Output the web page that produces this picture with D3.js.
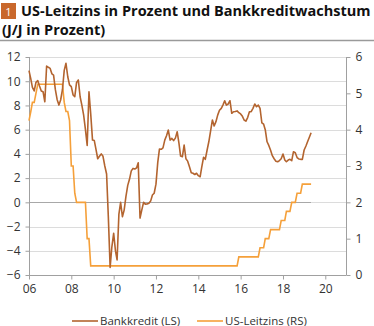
<!DOCTYPE html>
<html><head><meta charset="utf-8">
<script src="https://cdn.jsdelivr.net/npm/d3@7"></script>
<style>
html,body{margin:0;padding:0;background:#fff;}
svg{display:block;font-family:"Open Sans",sans-serif;}
</style></head><body>
<svg id="chart" width="374" height="326"></svg>
<script>
// ---- data ----
const titleNumber = "1";
const titleLine1 = "US-Leitzins in Prozent und Bankkreditwachstum";
const titleLine2 = "(J/J in Prozent)";
const startMonth = "2006-01"; // first month of the Bankkredit series (monthly)
const bankCredit = [
 10.87,10.2,9.5,9.2,9.9,10.05,9.6,9.2,9.13,8.3,11.25,11.15,
 11.06,10.6,10.5,9.3,8.5,8.03,8.45,9.3,10.9,11.48,10.37,9.7,
 9.55,8.86,8.72,9.9,10.1,8.72,8.03,7.2,6.0,4.7,9.13,7.3,
 5.14,5.1,4.4,3.6,3.8,4.0,3.8,3.0,2.34,-1.2,-5.37,-3.67,
 -2.56,-4.0,-4.76,-1.0,0.0,-1.19,-0.64,0.5,1.4,1.9,2.6,2.8,
 2.75,2.85,3.27,-1.3,-0.64,0.0,-0.15,-0.14,-0.08,0.1,0.6,0.75,
 1.5,3.3,4.4,4.38,4.5,5.14,5.5,5.97,5.14,5.28,5.1,5.3,
 5.83,4.87,3.82,3.77,4.73,3.6,3.4,2.94,2.44,2.4,2.3,2.4,
 2.2,2.11,2.9,3.72,3.55,4.3,5.0,5.9,6.8,6.3,6.66,7.2,
 7.6,7.76,8.03,8.39,8.03,8.12,8.39,7.35,7.48,7.5,7.55,7.4,
 7.3,7.1,6.8,6.7,7.0,7.48,7.48,7.76,8.12,7.89,8.03,7.76,
 6.57,6.45,6.0,5.0,4.7,4.3,3.85,3.6,3.4,3.35,3.45,3.6,
 3.99,3.5,3.35,3.49,3.55,3.44,4.18,4.1,3.7,3.58,3.55,3.55,
 4.32,4.65,5.0,5.37,5.75
];
const fedDates = ["2006-01","2006-02","2006-03","2006-04","2006-05","2006-06","2007-08","2007-09","2007-10","2007-11","2007-12",
 "2008-01","2008-02","2008-03","2008-04","2008-09","2008-10","2008-11","2008-12","2015-11","2015-12","2016-11","2016-12",
 "2017-02","2017-03","2017-05","2017-06","2017-11","2017-12","2018-02","2018-03","2018-05","2018-06","2018-08","2018-09",
 "2018-11","2018-12","2019-05"];
const fedRates = [4.25,4.5,4.75,4.75,5.0,5.25,5.25,4.75,4.5,4.5,4.25,
 3.0,3.0,2.25,2.0,2.0,1.0,1.0,0.25,0.25,0.5,0.5,0.75,
 0.75,1.0,1.0,1.25,1.25,1.5,1.5,1.75,1.75,2.0,2.0,2.25,
 2.25,2.5,2.5];
const xTickYears = [2006,2008,2010,2012,2014,2016,2018,2020];
const xTickLabels = ["06","08","10","12","14","16","18","20"];
const leftTicks = [-6,-4,-2,0,2,4,6,8,10,12];
const rightTicks = [0,1,2,3,4,5,6];
const legendLabels = ["Bankkredit (LS)","US-Leitzins (RS)"];

// ---- styles ----
const cBank = "#b3642f", cFed = "#f5a03a", cBox = "#c9682c";
const svg = d3.select("#chart");
const parseM = d3.timeParse("%Y-%m");

const x = d3.scaleTime().domain([new Date(2006,0,1), new Date(2021,0,1)]).range([29, 346.5]);
const yL = d3.scaleLinear().domain([-6,12]).range([275,57]);
const yR = d3.scaleLinear().domain([0,6]).range([275,57]);

// title
svg.append("rect").attr("x",1).attr("y",3).attr("width",15).attr("height",16).attr("fill",cBox);
svg.append("text").attr("x",8.5).attr("y",15.5).attr("text-anchor","middle").attr("fill","#fff")
  .attr("font-size",11).text(titleNumber);
const t1 = svg.append("text").attr("x",21).attr("y",16).attr("font-weight","bold").attr("fill","#111")
  .attr("font-size",14).text(titleLine1);
const w = t1.node().getComputedTextLength();
const fs = 14*350/w;
t1.attr("font-size",fs);
svg.append("text").attr("x",2).attr("y",34.5).attr("font-weight","bold").attr("fill","#111")
  .attr("font-size",fs).text(titleLine2);
svg.append("line").attr("x1",0).attr("x2",374).attr("y1",40.5).attr("y2",40.5).attr("stroke","#9a9a9a").attr("stroke-width",1.5);

// gridlines
svg.append("g").selectAll("line").data(leftTicks.filter(d=>d!==0 && d!==-6)).join("line")
  .attr("x1",29).attr("x2",346.5).attr("y1",d=>Math.round(yL(d))+0.5).attr("y2",d=>Math.round(yL(d))+0.5)
  .attr("stroke","#dcdcdc").attr("stroke-width",1);

// zero line across data span
const lastDate = d3.timeMonth.offset(parseM(startMonth), bankCredit.length-1);
svg.append("line").attr("x1",29).attr("x2",x(lastDate)).attr("y1",Math.round(yL(0))+0.5).attr("y2",Math.round(yL(0))+0.5)
  .attr("stroke","#a8a8a8").attr("stroke-width",1);
svg.append("line").attr("x1",x(lastDate)).attr("x2",346.5).attr("y1",Math.round(yL(0))+0.5).attr("y2",Math.round(yL(0))+0.5)
  .attr("stroke","#dcdcdc").attr("stroke-width",1);

// axes
const axisColor = "#a0a0a0", textColor = "#333";
const gx = svg.append("g").attr("transform","translate(0,275.5)")
  .call(d3.axisBottom(x).tickValues(xTickYears.map(y=>new Date(y,0,1))).tickFormat((d,i)=>xTickLabels[i]).tickSize(4).tickPadding(5));
const gl = svg.append("g").attr("transform","translate(29.5,0)")
  .call(d3.axisLeft(yL).tickValues(leftTicks).tickFormat(d3.format("d")).tickSize(4).tickPadding(5));
const gr = svg.append("g").attr("transform","translate(346.5,0)")
  .call(d3.axisRight(yR).tickValues(rightTicks).tickFormat(d3.format("d")).tickSize(4).tickPadding(5));
[gx,gl,gr].forEach(g=>{
  g.select(".domain").attr("stroke",axisColor);
  g.selectAll(".tick line").attr("stroke",axisColor);
  g.selectAll(".tick text").attr("fill",textColor).attr("font-size",12).attr("font-family","'Open Sans',sans-serif");
});
gx.select(".domain").attr("d","M29,0H346.5");
gl.select(".domain").attr("d","M0,57V275");
gr.select(".domain").attr("d","M0,57V275");

// lines
const bankData = bankCredit.map((v,i)=>({d:d3.timeMonth.offset(parseM(startMonth),i), v}));
const fedData = fedDates.map((s,i)=>({d:parseM(s), v:fedRates[i]}));
svg.append("path").datum(fedData).attr("fill","none").attr("stroke",cFed).attr("stroke-width",1.6)
  .attr("d", d3.line().x(p=>x(p.d)).y(p=>yR(p.v)));
svg.append("path").datum(bankData).attr("fill","none").attr("stroke",cBank).attr("stroke-width",1.6)
  .attr("stroke-linejoin","round")
  .attr("d", d3.line().x(p=>x(p.d)).y(p=>yL(p.v)));

// legend
const lg = svg.append("g").attr("font-size",11.5).attr("fill",textColor);
[[72,98,100,cBank],[197,223,225,cFed]].forEach((p,i)=>{
  lg.append("line").attr("x1",p[0]).attr("x2",p[1]).attr("y1",321).attr("y2",321).attr("stroke",p[3]).attr("stroke-width",1.6);
  lg.append("text").attr("x",p[2]).attr("y",324.5).attr("fill",textColor).text(legendLabels[i]);
});
</script>
</body></html>
